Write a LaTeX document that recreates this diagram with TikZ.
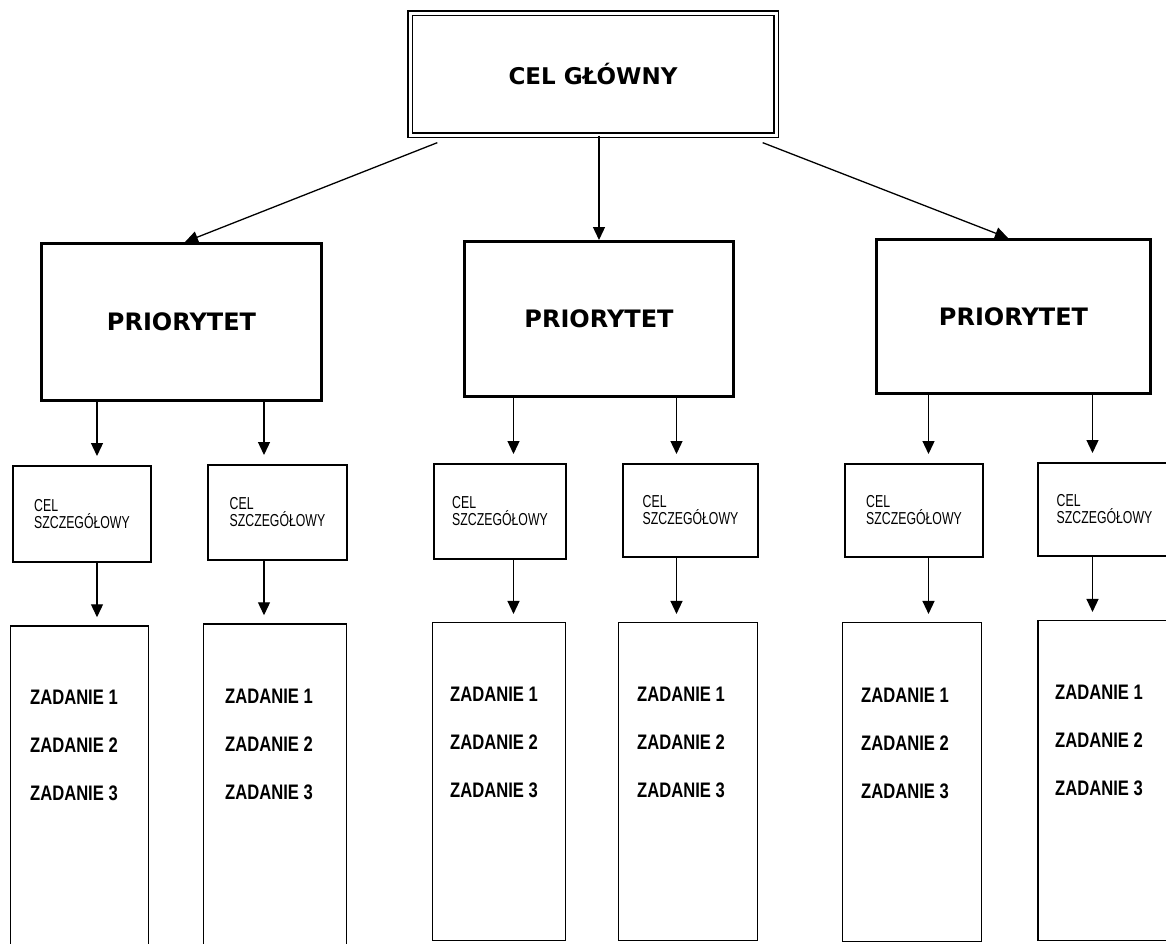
\documentclass[tikz,border=0pt]{standalone}
\usepackage{fontspec}
\usetikzlibrary{arrows.meta}
\newfontfamily\headfont{DejaVu Sans Bold}
\newfontfamily\celfont[FakeStretch=0.71]{Liberation Sans}
\newfontfamily\zadfont[FakeStretch=0.79]{Liberation Sans Bold}
\begin{document}
\begin{tikzpicture}[x=1pt,y=-1pt,
 mainbox/.style={draw, double, line width=1.3pt, double distance=3pt, minimum width=366pt, minimum height=122pt, inner sep=0pt, font=\headfont\fontsize{23}{28}\selectfont},
 priobox/.style={draw, line width=3pt, inner sep=0pt, font=\headfont\fontsize{24}{29}\selectfont},
 celbox/.style={draw, line width=2pt, inner sep=0pt, align=left, font=\celfont\fontsize{17.3}{17}\selectfont},
 zadbox/.style={draw, line width=1.5pt, inner sep=0pt},
 zad/.style={anchor=west, inner sep=0pt, font=\zadfont\fontsize{21}{24}\selectfont},
 arr/.style={line width=1.3pt, -{Triangle[length=13pt,width=12pt]}},
]
\fill[white] (0,0) rectangle (1166,943);
\useasboundingbox (0,0) rectangle (1166,943);

% main goal
\node[mainbox] (top) at (593,74) {CEL GŁÓWNY};

% priorities
\node[priobox, minimum width=280pt, minimum height=157pt] (p1) at (181.5,322) {PRIORYTET};
\node[priobox, minimum width=269pt, minimum height=155pt] (p2) at (599,319) {PRIORYTET};
\node[priobox, minimum width=274pt, minimum height=154pt] (p3) at (1013.5,316.5) {PRIORYTET};

% specific goals
\node[celbox, minimum width=138pt, minimum height=96pt] (s1) at (82,514) {CEL\\SZCZEGÓŁOWY};
\node[celbox, minimum width=139pt, minimum height=95pt] (s2) at (277.5,512.5) {CEL\\SZCZEGÓŁOWY};
\node[celbox, minimum width=132pt, minimum height=95pt] (s3) at (500,511.5) {CEL\\SZCZEGÓŁOWY};
\node[celbox, minimum width=135pt, minimum height=93pt] (s4) at (690.5,510.5) {CEL\\SZCZEGÓŁOWY};
\node[celbox, minimum width=138pt, minimum height=93pt] (s5) at (914,510.5) {CEL\\SZCZEGÓŁOWY};
\node[celbox, minimum width=133pt, minimum height=93pt] (s6) at (1104.5,509.5) {CEL\\SZCZEGÓŁOWY};

% task boxes
\node[zadbox, minimum width=137.6pt, minimum height=324pt] (t1) at (79.5,788) {};
\node[zadbox, minimum width=142.6pt, minimum height=326pt] (t2) at (275,787) {};
\node[zadbox, minimum width=132.6pt, minimum height=317.6pt] (t3) at (499,781.5) {};
\node[zadbox, minimum width=138.6pt, minimum height=317.6pt] (t4) at (688,781.5) {};
\node[zadbox, minimum width=138.6pt, minimum height=318.6pt] (t5) at (912,782) {};
\node[zadbox, minimum width=134.3pt, minimum height=319.6pt] (t6) at (1105,780.5) {};

% task texts
\foreach \n/\x/\y in {1/30/697, 2/225/696, 3/450/694, 4/637/694, 5/861/695, 6/1055/692} {
  \node[zad] (z\n a) at (\x,\y) {ZADANIE 1};
  \node[zad] (z\n b) at (\x,\y+48) {ZADANIE 2};
  \node[zad] (z\n c) at (\x,\y+96) {ZADANIE 3};
}

% column positions
\coordinate (c1) at (97,0);
\coordinate (c2) at (264,0);
\coordinate (c3) at (513.5,0);
\coordinate (c4) at (676.5,0);
\coordinate (c5) at (928.5,0);
\coordinate (c6) at (1092.5,0);

% arrows from main goal
\draw[arr] ([shift={(28,7)}]top.south west) -- ([xshift=3.5pt]p1.north);
\draw[arr] (top.south -| p2.north) -- (p2.north);
\draw[arr] ([shift={(-14,7)}]top.south east) -- ([xshift=-5.5pt]p3.north);

% arrows priority -> specific goals
\foreach \p/\s/\c in {p1/s1/c1, p1/s2/c2, p2/s3/c3, p2/s4/c4, p3/s5/c5, p3/s6/c6}
  \draw[arr, shorten >=9pt] (\p.south -| \c) -- (\s.north -| \c);

% arrows specific goals -> tasks
\foreach \s/\t/\c in {s1/t1/c1, s2/t2/c2, s3/t3/c3, s4/t4/c4, s5/t5/c5, s6/t6/c6}
  \draw[arr, shorten >=8pt] (\s.south -| \c) -- (\t.north -| \c);
\end{tikzpicture}
\end{document}
